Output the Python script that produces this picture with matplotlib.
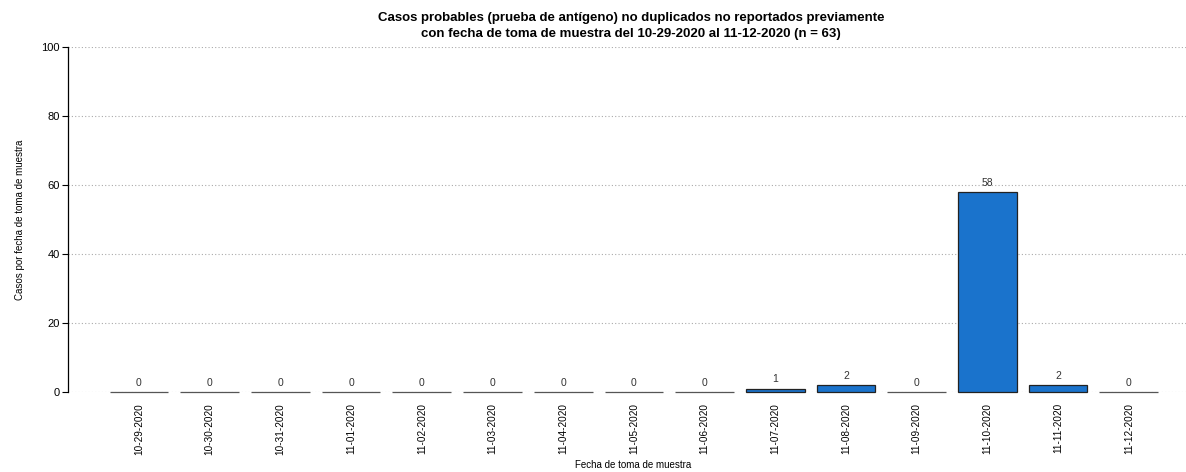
import numpy as np
import matplotlib
matplotlib.use("Agg")
import matplotlib.pyplot as plt

plt.rcParams["font.family"] = ["Liberation Sans", "DejaVu Sans"]

fechas = ["10-29-2020", "10-30-2020", "10-31-2020", "11-01-2020", "11-02-2020",
          "11-03-2020", "11-04-2020", "11-05-2020", "11-06-2020", "11-07-2020",
          "11-08-2020", "11-09-2020", "11-10-2020", "11-11-2020", "11-12-2020"]
casos = [0, 0, 0, 0, 0, 0, 0, 0, 0, 1, 2, 0, 58, 2, 0]
yticks = [0, 20, 40, 60, 80, 100]

W, H = 1186, 472
fig = plt.figure(figsize=(W / 100, H / 100), dpi=100)
ax = fig.add_axes([68 / W, 1 - 392 / H, 1 - 68 / W, (392 - 47) / H])

x = np.arange(len(casos))
ax.set_axisbelow(True)
ax.grid(axis="y", linestyle=(0, (1, 2)), color="#aaaaaa", linewidth=0.8)
bars = ax.bar(x, casos, width=0.83, color="#1a73cc", edgecolor="#222222", linewidth=0.9)
for b, v in zip(bars, casos):
    b.set_clip_on(False)
    if v == 0:
        b.set_edgecolor("#555555")
for xi, v in zip(x, casos):
    ax.text(xi, v + 1.2, str(v), ha="center", va="bottom", fontsize=7.5, color="#333333")

ax.set_xlim((68 - 139) / 70.7, (W - 139) / 70.7)
ax.set_ylim(0, 100)
ax.set_yticks(yticks)
ax.tick_params(axis="y", labelsize=8, length=4, width=0.8, pad=2)
ax.set_xticks(x)
ax.set_xticklabels(fechas, rotation=90, fontsize=7.2)
ax.tick_params(axis="x", length=0, pad=8)

for s in ["top", "right", "bottom"]:
    ax.spines[s].set_visible(False)
ax.spines["left"].set_linewidth(0.9)

ax.set_ylabel("Casos por fecha de toma de muestra", fontsize=7)
ax.yaxis.set_label_coords(-43 / (W - 68), 0.5)
fig.text(633 / W, 2 / H, "Fecha de toma de muestra", ha="center", va="bottom", fontsize=7)
fig.text(631 / W, 1 - 26 / H,
         "Casos probables (prueba de antígeno) no duplicados no reportados previamente\n"
         "con fecha de toma de muestra del 10-29-2020 al 11-12-2020 (n = 63)",
         ha="center", va="center", fontsize=9.5, fontweight="bold", linespacing=1.45)

fig.savefig("out.png", dpi=100)
